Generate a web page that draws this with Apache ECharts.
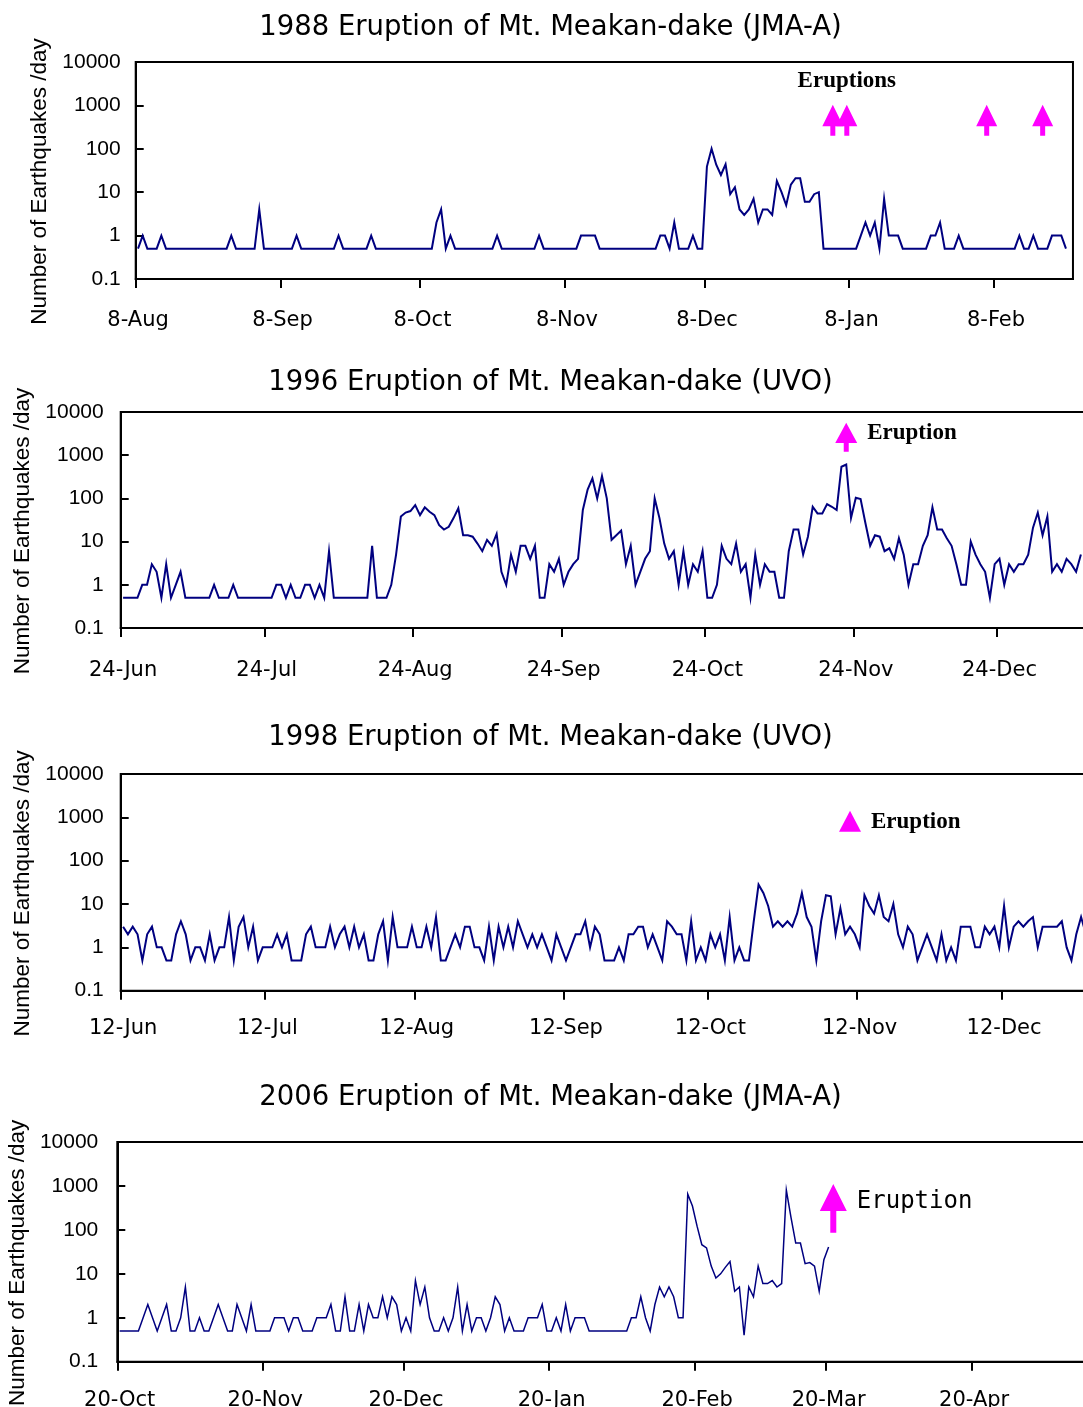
<!DOCTYPE html>
<html>
<head>
<meta charset="utf-8">
<script src="https://cdn.jsdelivr.net/npm/echarts@6/dist/echarts.min.js"></script>
<style>
html,body{margin:0;padding:0;background:#fff;}
#chart{width:1083px;height:1407px;}
</style>
</head>
<body>
<div id="chart"></div>
<script>
// ---------------- DATA ----------------
const titles = [
  '1988 Eruption of Mt. Meakan-dake (JMA-A)',
  '1996 Eruption of Mt. Meakan-dake (UVO)',
  '1998 Eruption of Mt. Meakan-dake (UVO)',
  '2006 Eruption of Mt. Meakan-dake (JMA-A)'
];
const yAxisName = 'Number of Earthquakes /day';
const yTickValues = [0.1, 1, 10, 100, 1000, 10000];

const startDates = ['1988-08-08', '1996-06-24', '1998-06-12', '2005-10-20'];
const axisEndDates = ['1989-02-25', '1997-01-13', '1998-12-31', '2006-05-16'];

const tickDates1988 = ['1988-08-08','1988-09-08','1988-10-08','1988-11-08','1988-12-08','1989-01-08','1989-02-08'];
const tickLabels1988 = ['8-Aug','8-Sep','8-Oct','8-Nov','8-Dec','8-Jan','8-Feb'];
const tickDates1996 = ['1996-06-24','1996-07-24','1996-08-24','1996-09-24','1996-10-24','1996-11-24','1996-12-24'];
const tickLabels1996 = ['24-Jun','24-Jul','24-Aug','24-Sep','24-Oct','24-Nov','24-Dec'];
const tickDates1998 = ['1998-06-12','1998-07-12','1998-08-12','1998-09-12','1998-10-12','1998-11-12','1998-12-12'];
const tickLabels1998 = ['12-Jun','12-Jul','12-Aug','12-Sep','12-Oct','12-Nov','12-Dec'];
const tickDates2006 = ['2005-10-20','2005-11-20','2005-12-20','2006-01-20','2006-02-20','2006-03-20','2006-04-20'];
const tickLabels2006 = ['20-Oct','20-Nov','20-Dec','20-Jan','20-Feb','20-Mar','20-Apr'];

// daily counts (days with no event shown at 0.5)
const counts1988 = [
0.5,1,0.5,0.5,0.5,1,0.5,0.5,0.5,0.5,0.5,0.5,0.5,0.5,0.5,0.5,0.5,0.5,0.5,0.5,
1,0.5,0.5,0.5,0.5,0.5,4,0.5,0.5,0.5,0.5,0.5,0.5,0.5,1,0.5,0.5,0.5,0.5,0.5,
0.5,0.5,0.5,1,0.5,0.5,0.5,0.5,0.5,0.5,1,0.5,0.5,0.5,0.5,0.5,0.5,0.5,0.5,0.5,
0.5,0.5,0.5,0.5,2,4,0.5,1,0.5,0.5,0.5,0.5,0.5,0.5,0.5,0.5,0.5,1,0.5,0.5,
0.5,0.5,0.5,0.5,0.5,0.5,1,0.5,0.5,0.5,0.5,0.5,0.5,0.5,0.5,1,1,1,1,0.5,
0.5,0.5,0.5,0.5,0.5,0.5,0.5,0.5,0.5,0.5,0.5,0.5,1,1,0.5,2,0.5,0.5,0.5,1,
0.5,0.5,39,100,43,25,44,9,13,4,3,4,7,2,4,4,3,18,10,5,
15,21,21,6,6,9,10,0.5,0.5,0.5,0.5,0.5,0.5,0.5,0.5,1,2,1,2,0.5,
7,1,1,1,0.5,0.5,0.5,0.5,0.5,0.5,1,1,2,0.5,0.5,0.5,1,0.5,0.5,0.5,
0.5,0.5,0.5,0.5,0.5,0.5,0.5,0.5,0.5,1,0.5,0.5,1,0.5,0.5,0.5,1,1,1,0.5
];
const counts1996 = [
0.5,0.5,0.5,0.5,1,1,3,2,0.5,3,0.5,1,2,0.5,
0.5,0.5,0.5,0.5,0.5,
1,0.5,0.5,0.5,1,0.5,
0.5,0.5,0.5,0.5,0.5,0.5,0.5,
1,1,0.5,1,0.5,0.5,1,1,0.5,1,0.5,6,0.5,
0.5,0.5,0.5,0.5,0.5,0.5,0.5,
8,0.5,0.5,0.5,1,5,38,47,51,70,41,62,49,41,24,19,22,35,59,
14,14,13,9,6,11,8,15,2,1,5,2,8,8,4,8,0.5,0.5,3,2,4,1,2,3,4,
54,160,290,100,330,100,11,14,18,3,8,1,2,4,6,100,35,9,4,6,1,6,1,3,2,6,
0.5,0.5,1,8,4,3,9,2,3,0.5,5,1,3,2,2,0.5,0.5,6,19,19,5,13,64,45,45,74,64,54,540,610,
35,104,97,27,8,14,13,6,7,4,12,5,1,3,3,8,14,62,19,19,12,8,3,1,1,
10,5,3,2,0.5,3,4,1,3,2,3,3,5,21,47,14,38,2,3,2,4,3,2,5
];
const counts1998 = [
3,2,3,2,0.5,2,3,1,1,0.5,0.5,2,4,2,0.5,1,1,0.5,2,0.5,
1,1,5,0.5,3,5,1,3,0.5,1,1,1,2,1,2,0.5,0.5,0.5,2,3,
1,1,1,3,1,2,3,1,3,1,2,0.5,0.5,2,4,0.5,5,1,1,1,
3,1,1,3,1,5,0.5,0.5,1,2,1,3,3,1,1,0.5,3,0.5,3,1,
3,1,4,2,1,2,1,2,1,0.5,2,1,0.5,1,2,2,4,1,3,2,
0.5,0.5,0.5,1,0.5,2,2,3,3,1,2,1,0.5,4,3,2,2,0.5,4,0.5,
1,0.5,2,1,2,0.5,5,0.5,1,0.5,0.5,4,28,18,9,3,4,3,4,3,
6,18,5,3,0.5,4,16,15,2,8,2,3,2,1,16,9,6,16,5,4,
10,2,1,3,2,0.5,1,2,1,0.5,2,0.5,1,0.5,3,3,3,1,1,3,
2,3,1,9,1,3,4,3,4,5,1,3,3,3,3,4,1,0.5,2,5,2
];
const counts2006 = [
0.5,0.5,0.5,0.5,0.5,1,2,1,0.5,1,2,0.5,0.5,1,5,0.5,0.5,1,0.5,0.5,
1,2,1,0.5,0.5,2,1,0.5,2,0.5,0.5,0.5,0.5,1,1,1,0.5,1,1,0.5,
0.5,0.5,1,1,1,2,0.5,0.5,3,0.5,0.5,2,0.5,2,1,1,3,1,3,2,
0.5,1,0.5,7,2,5,1,0.5,0.5,1,0.5,1,5,0.5,2,0.5,1,1,0.5,1,
3,2,0.5,1,0.5,0.5,0.5,1,1,1,2,0.5,0.5,1,0.5,2,0.5,1,1,1,
0.5,0.5,0.5,0.5,0.5,0.5,0.5,0.5,0.5,1,1,3,1,0.5,2,5,3,5,3,1,
1,650,350,120,46,39,15,8,10,14,19,4,5,0.4,5,3,15,6,6,7,
5,6,800,190,50,50,17,18,15,4,21,41
];

const eruptions1988 = ['1989-01-04','1989-01-07','1989-02-06','1989-02-18'];
const eruptions1996 = ['1996-11-22'];
const eruptions1998 = ['1998-11-10'];
const eruptions2006 = ['2006-03-21'];
const eruptionLabels = ['Eruptions', 'Eruption', 'Eruption', 'Eruption'];

// ---------------- BUILD ----------------
function dayIndex(d, s) {
  return Math.round((Date.parse(d + 'T00:00:00Z') - Date.parse(s + 'T00:00:00Z')) / 86400000);
}

const panels = [
  {counts: counts1988, tickDates: tickDates1988, tickLabels: tickLabels1988, eruptions: eruptions1988},
  {counts: counts1996, tickDates: tickDates1996, tickLabels: tickLabels1996, eruptions: eruptions1996},
  {counts: counts1998, tickDates: tickDates1998, tickLabels: tickLabels1998, eruptions: eruptions1998},
  {counts: counts2006, tickDates: tickDates2006, tickLabels: tickLabels2006, eruptions: eruptions2006}
];

const serifBold = {fontFamily: 'Liberation Serif', fontWeight: 'bold', fontSize: 23, color: '#000'};
const looks = [
  {left: 135.7, top: 62, height: 217, pxDay: 4.663, titleY: 28, nameGap: 80, lblMargin: 31, yMargin: 15, lineW: 2,
   arrowY: 453, arrowPath: 'path://M10.5,0 L21,21.5 L13,21.5 L13,31 L8,31 L8,21.5 L0,21.5 Z', arrowSize: [21, 31],
   labelIdx: 1, label: Object.assign({position: 'top', distance: 12}, serifBold)},
  {left: 120.7, top: 412, height: 216, pxDay: 4.789, titleY: 383, nameGap: 83, lblMargin: 32, yMargin: 17, lineW: 2,
   arrowY: 2610, arrowPath: 'path://M11,0 L22,20.3 L13.5,20.3 L13.5,29 L8.5,29 L8.5,20.3 L0,20.3 Z', arrowSize: [22, 29],
   labelIdx: 0, label: Object.assign({position: 'right', distance: 10, offset: [0, -4]}, serifBold)},
  {left: 120.7, top: 774, height: 216.7, pxDay: 4.814, titleY: 738, nameGap: 83, lblMargin: 27, yMargin: 17, lineW: 2,
   arrowY: 809, arrowPath: 'path://M11,0 L22,21 L0,21 Z', arrowSize: [22, 21],
   labelIdx: 0, label: Object.assign({position: 'right', distance: 10, offset: [0, 1]}, serifBold)},
  {left: 117.3, top: 1142, height: 219.7, pxDay: 4.695, titleY: 1098, nameGap: 85, lblMargin: 28, yMargin: 19, lineW: 1.5,
   arrowY: 310, arrowPath: 'path://M13.5,0 L27,27 L16.5,27 L16.5,48.7 L10.5,48.7 L10.5,27 L0,27 Z', arrowSize: [27, 48.7],
   labelIdx: 0, label: {position: 'right', distance: 10, offset: [0, -7], fontFamily: 'DejaVu Sans Mono', fontSize: 24, color: '#000'}}
];

const grid = [], xAxis = [], yAxis = [], series = [], graphic = [];

panels.forEach(function (p, i) {
  const L = looks[i];
  const start = startDates[i];
  const axisDays = dayIndex(axisEndDates[i], start);
  grid.push({left: L.left, top: L.top, width: L.pxDay * axisDays, height: L.height,
    show: true, borderColor: '#000', borderWidth: 2, backgroundColor: '#fff',
    containLabel: false, outerBoundsMode: 'none'});

  const tickIdx = p.tickDates.map(function (d) { return dayIndex(d, start); });
  const labelMap = {};
  tickIdx.forEach(function (t, k) { labelMap[t] = p.tickLabels[k]; });

  xAxis.push({
    type: 'value', gridIndex: i, min: 0, max: axisDays,
    axisLine: {show: true, onZero: false, lineStyle: {color: '#000', width: 2}},
    axisTick: {show: true, inside: false, length: 9, lineStyle: {color: '#000', width: 2},
      customValues: tickIdx},
    axisLabel: {show: true, margin: L.lblMargin, hideOverlap: false,
      customValues: tickIdx.map(function (t) { return t + 0.5; }),
      formatter: function (v) { return labelMap[Math.floor(v)] || ''; },
      fontFamily: 'DejaVu Sans', fontSize: 21, color: '#000'},
    splitLine: {show: false}
  });

  yAxis.push({
    type: 'log', logBase: 10, gridIndex: i, min: yTickValues[0], max: yTickValues[yTickValues.length - 1],
    name: yAxisName, nameLocation: 'middle', nameRotate: 90, nameGap: L.nameGap,
    nameTextStyle: {fontFamily: 'Liberation Sans', fontSize: 22.5, color: '#000', padding: [0, 22, 0, 0]},
    axisLine: {show: true, onZero: false, lineStyle: {color: '#000', width: 2}},
    axisTick: {show: true, inside: true, length: 8, lineStyle: {color: '#000', width: 2}},
    axisLabel: {show: true, margin: L.yMargin, fontFamily: 'Liberation Sans', fontSize: 21, color: '#000',
      formatter: function (v) { return String(+Number(v).toPrecision(6)); }},
    splitLine: {show: false}
  });

  const mpData = p.eruptions.map(function (d, k) {
    const item = {
      coord: [dayIndex(d, start) + 0.5, L.arrowY],
      symbol: L.arrowPath, symbolSize: L.arrowSize, symbolKeepAspect: false,
      itemStyle: {color: '#ff00ff'},
      label: {show: false}
    };
    if (k === L.labelIdx) {
      item.label = Object.assign({show: true, formatter: eruptionLabels[i]}, L.label);
    }
    return item;
  });

  series.push({
    type: 'line', xAxisIndex: i, yAxisIndex: i,
    data: p.counts.map(function (v, k) { return [k + 0.5, v]; }),
    symbol: 'none', showSymbol: false,
    lineStyle: {color: '#000080', width: L.lineW, join: 'miter'},
    itemStyle: {color: '#000080'},
    z: 3,
    markPoint: {silent: true, animation: false, data: mpData}
  });

  graphic.push({
    type: 'text', x: 550.5, y: L.titleY,
    style: {text: titles[i], fontFamily: 'DejaVu Sans', fontSize: 27.5, fill: '#000',
      align: 'center', verticalAlign: 'middle'}
  });
});

const chart = echarts.init(document.getElementById('chart'), null, {renderer: 'canvas'});
chart.setOption({
  backgroundColor: '#fff',
  animation: false,
  grid: grid, xAxis: xAxis, yAxis: yAxis, series: series, graphic: graphic
});
</script>
</body>
</html>
